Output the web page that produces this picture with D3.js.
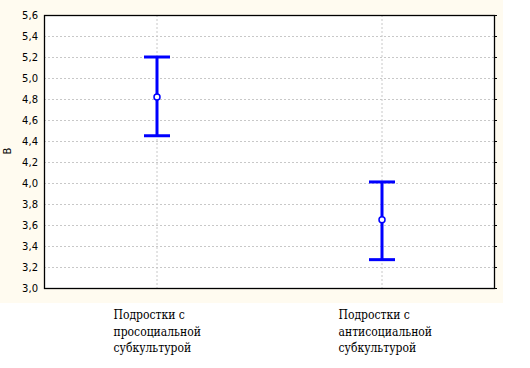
<!DOCTYPE html>
<html><head><meta charset="utf-8">
<script src="https://cdn.jsdelivr.net/npm/d3@7"></script>
<style>body{margin:0;background:#fff}svg{display:block}.cat{font-family:"DejaVu Serif Condensed","DejaVu Serif",serif;font-stretch:condensed;font-size:12px}</style>
</head><body>
<script>
const categories = [["Подростки с","просоциальной","субкультурой"],["Подростки с","антисоциальной","субкультурой"]];
const means = [4.82, 3.65];
const upper = [5.20, 4.01];
const lower = [4.45, 3.27];
const yTicks = [3.0,3.2,3.4,3.6,3.8,4.0,4.2,4.4,4.6,4.8,5.0,5.2,5.4,5.6];
const yLabel = "В";

const W=530,H=368;
const m={l:44,t:15,r:494,b:288};
const svg=d3.select("body").append("svg").attr("width",W).attr("height",H);
svg.append("rect").attr("x",0).attr("y",0).attr("width",503).attr("height",303).attr("fill","#fffbf0");
svg.append("rect").attr("x",m.l).attr("y",m.t).attr("width",m.r-m.l).attr("height",m.b-m.t).attr("fill","#fff");

const x=d3.scalePoint().domain(d3.range(categories.length)).range([m.l,m.r]).padding(0.5);
const y=d3.scaleLinear().domain([3.0,5.6]).range([m.b,m.t]);

const g=svg.append("g");
g.selectAll("line.hg").data(yTicks.slice(1,-1)).join("line")
 .attr("x1",m.l).attr("x2",m.r).attr("y1",d=>y(d)+0.5).attr("y2",d=>y(d)+0.5)
 .attr("stroke","#c8c8c8").attr("stroke-dasharray","2,2");
g.selectAll("line.vg").data(d3.range(categories.length)).join("line")
 .attr("x1",d=>x(d)+0.5).attr("x2",d=>x(d)+0.5).attr("y1",m.t).attr("y2",m.b)
 .attr("stroke","#c8c8c8").attr("stroke-dasharray","2,2");
g.selectAll("line.rt").data(yTicks).join("line")
 .attr("x1",m.r).attr("x2",m.r+3).attr("y1",d=>y(d)+0.5).attr("y2",d=>y(d)+0.5)
 .attr("stroke","#000");
svg.append("rect").attr("x",m.l+0.5).attr("y",m.t+0.5).attr("width",m.r-m.l).attr("height",m.b-m.t)
 .attr("fill","none").attr("stroke","#000").attr("stroke-width",1.3);

svg.selectAll("text.yt").data(yTicks).join("text")
 .attr("x",38).attr("y",d=>y(d)+4).attr("text-anchor","end")
 .attr("font-family","Verdana, 'DejaVu Sans', sans-serif").attr("font-size",10).attr("fill","#000")
 .text(d=>d3.format(".1f")(d).replace(".",","));
svg.append("text").attr("transform","translate(11,151) rotate(-90)").attr("text-anchor","middle")
 .attr("font-family","Verdana, 'DejaVu Sans', sans-serif").attr("font-size",10).text(yLabel);

const eb=svg.append("g");
const idx=d3.range(categories.length);
eb.selectAll("line.v").data(idx).join("line")
 .attr("x1",d=>x(d)+0.5).attr("x2",d=>x(d)+0.5).attr("y1",d=>y(upper[d])).attr("y2",d=>y(lower[d]))
 .attr("stroke","#0000ff").attr("stroke-width",3);
eb.selectAll("line.cu").data(idx).join("line")
 .attr("x1",d=>x(d)-12.5).attr("x2",d=>x(d)+13.5).attr("y1",d=>y(upper[d])).attr("y2",d=>y(upper[d]))
 .attr("stroke","#0000ff").attr("stroke-width",3);
eb.selectAll("line.cl").data(idx).join("line")
 .attr("x1",d=>x(d)-12.5).attr("x2",d=>x(d)+13.5).attr("y1",d=>y(lower[d])).attr("y2",d=>y(lower[d]))
 .attr("stroke","#0000ff").attr("stroke-width",3);
eb.selectAll("circle").data(idx).join("circle")
 .attr("cx",d=>x(d)+0.5).attr("cy",d=>y(means[d])).attr("r",3)
 .attr("fill","#fff").attr("stroke","#0000ff").attr("stroke-width",1.5);

categories.forEach((lines,i)=>{
  const t=svg.append("text").attr("class","cat").attr("fill","#000");
  lines.forEach((s,j)=>t.append("tspan").attr("x",x(i)-43).attr("y",319+j*16.5).text(s));
});
</script>
</body></html>
